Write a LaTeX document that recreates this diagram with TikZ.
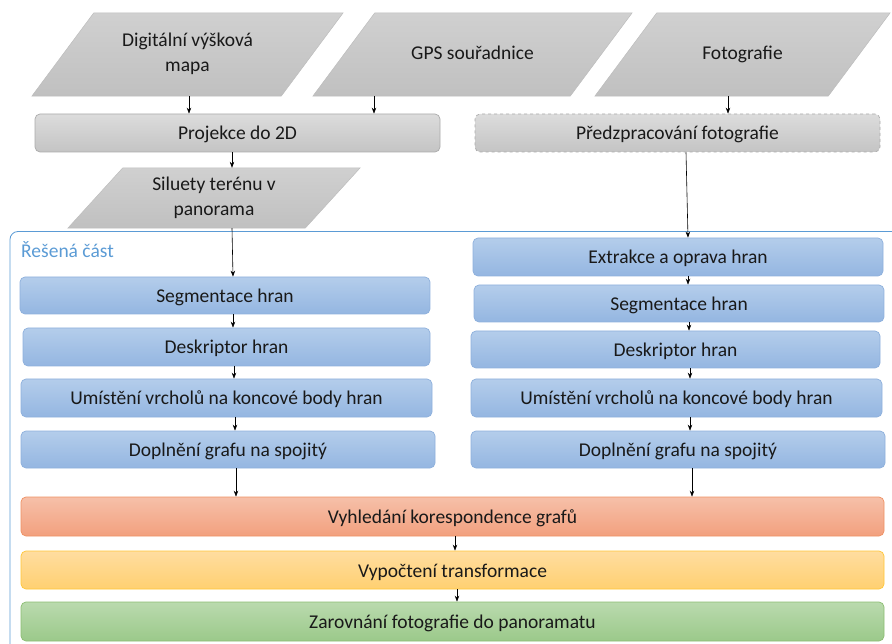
\documentclass[tikz,border=0pt]{standalone}
\usepackage{fontspec}
\setmainfont{Carlito}
\usetikzlibrary{arrows.meta,backgrounds}
\definecolor{gtop}{HTML}{DCDCDC}
\definecolor{gbot}{HTML}{C4C4C4}
\definecolor{gline}{HTML}{ABABAB}
\definecolor{ptop}{HTML}{D0D0D0}
\definecolor{pbot}{HTML}{C0C0C0}
\definecolor{pline}{HTML}{BDBDBD}
\definecolor{btop}{HTML}{B4CDEB}
\definecolor{bbot}{HTML}{94B6E1}
\definecolor{bline}{HTML}{8EB0DC}
\definecolor{otop}{HTML}{F6C0A9}
\definecolor{obot}{HTML}{F2A07E}
\definecolor{oline}{HTML}{EE9163}
\definecolor{ytop}{HTML}{FFDDA0}
\definecolor{ybot}{HTML}{FFD071}
\definecolor{yline}{HTML}{FFC637}
\definecolor{grtop}{HTML}{BADAAE}
\definecolor{grbot}{HTML}{9BC98A}
\definecolor{grline}{HTML}{8CBD72}
\definecolor{contblue}{HTML}{5B9BD5}
\tikzset{
  txt/.style={font=\fontsize{19.5}{25}\selectfont, text=black!90, inner sep=0pt, align=center},
  base/.style={txt, rounded corners=5pt, line width=0.7pt, text height=15pt, text depth=1pt},
  graybox/.style={base, draw=gline, top color=gtop, bottom color=gbot},
  dashbox/.style={base, draw=gline, dashed, top color=gtop, bottom color=gbot},
  bluebox/.style={base, draw=bline, top color=btop, bottom color=bbot},
  orangebox/.style={base, draw=oline, top color=otop, bottom color=obot},
  yellowbox/.style={base, draw=yline, top color=ytop, bottom color=ybot},
  greenbox/.style={base, draw=grline, top color=grtop, bottom color=grbot},
  paraframe/.style={draw=pline, line width=0.5pt, top color=ptop, bottom color=pbot},
  arr/.style={-{Stealth[length=6pt,width=4.5pt]}, line width=0.6pt, black}
}
\begin{document}
\begin{tikzpicture}[x=1pt,y=-1pt]
\useasboundingbox (0,0) rectangle (892,644);
% input parallelograms (text holders)
\node[txt, minimum width=311pt, minimum height=83pt] (dem) at (187.5,54.5) {\raisebox{3pt}{\begin{tabular}{@{}c@{}}Digitální výšková\\mapa\end{tabular}}};
\node[txt, minimum width=319pt, minimum height=83pt] (gps) at (472.5,54.5) {\raisebox{4pt}{GPS souřadnice}};
\node[txt, minimum width=295pt, minimum height=83pt] (foto) at (742.5,54.5) {\raisebox{4pt}{Fotografie}};
\node[txt, minimum width=292pt, minimum height=60pt] (sil) at (214,198) {\raisebox{-1pt}{\begin{tabular}{@{}c@{}}Siluety terénu v\\panorama\end{tabular}}};
\begin{pgfonlayer}{background}
\foreach \n in {dem,gps,foto}{
  \path[paraframe] ([xshift=62pt]\n.north west) -- (\n.north east) -- ([xshift=-62pt]\n.south east) -- (\n.south west) -- cycle;
}
\path[paraframe] ([xshift=55pt]sil.north west) -- (sil.north east) -- ([xshift=-55pt]sil.south east) -- (sil.south west) -- cycle;
\end{pgfonlayer}
% container
\draw[contblue, line width=0.8pt] (892,231.5) -- (18,231.5) arc[start angle=90,end angle=180,radius=8pt] -- (10,644);
\node[txt, anchor=west, text=contblue] (lab) at (21,250) {Řešená část};
% gray boxes
\node[graybox, minimum width=405pt, minimum height=38pt] (proj) at (237.5,133) {Projekce do 2D};
\node[dashbox, minimum width=405pt, minimum height=38pt] (pre) at (677.5,133) {Předzpracování fotografie};
% left column
\node[bluebox, minimum width=410pt, minimum height=37pt] (seg1) at (225,295.5) {Segmentace hran};
\node[bluebox, minimum width=407pt, minimum height=38pt] (desc1) at (226.5,347) {Deskriptor hran};
\node[bluebox, minimum width=411pt, minimum height=38pt] (umi1) at (226.5,398) {Umístění vrcholů na koncové body hran};
\node[bluebox, minimum width=414pt, minimum height=37pt] (dop1) at (228,449.5) {Doplnění grafu na spojitý};
% right column
\node[bluebox, minimum width=410pt, minimum height=38pt] (ext) at (678,257) {Extrakce a oprava hran};
\node[bluebox, minimum width=410pt, minimum height=37pt] (seg2) at (679,303.5) {Segmentace hran};
\node[bluebox, minimum width=409pt, minimum height=37pt] (desc2) at (675.5,349.5) {Deskriptor hran};
\node[bluebox, minimum width=411pt, minimum height=38pt] (umi2) at (676.5,398) {Umístění vrcholů na koncové body hran};
\node[bluebox, minimum width=414pt, minimum height=37pt] (dop2) at (678,449.5) {Doplnění grafu na spojitý};
% bottom
\node[orangebox, minimum width=863pt, minimum height=39pt] (vyh) at (452.5,516.5) {Vyhledání korespondence grafů};
\node[yellowbox, minimum width=863pt, minimum height=38pt] (vyp) at (452.5,570) {Vypočtení transformace};
\node[greenbox, minimum width=863pt, minimum height=39pt] (zar) at (452.5,621.5) {Zarovnání fotografie do panoramatu};
% arrows
\draw[arr] ([xshift=1.5pt]dem.south) -- ([xshift=1.5pt]dem.south |- proj.north);
\draw[arr] ([xshift=-98.5pt]gps.south) -- ([xshift=-98.5pt]gps.south |- proj.north);
\draw[arr] ([xshift=-14.5pt]foto.south) -- ([xshift=-14.5pt]foto.south |- pre.north);
\draw[arr] ([xshift=-5.5pt]proj.south) -- ([xshift=-5.5pt]proj.south |- sil.north);
\draw[arr] ([xshift=18pt]sil.south) -- ([xshift=8pt]seg1.north);
\draw[arr] ([xshift=8.5pt]pre.south) -- ([xshift=10pt]ext.north);
\draw[arr] ([xshift=8pt]seg1.south) -- ([xshift=8pt]seg1.south |- desc1.north);
\draw[arr] ([xshift=7.5pt]desc1.south) -- ([xshift=7.5pt]desc1.south |- umi1.north);
\draw[arr] ([xshift=8.5pt]umi1.south) -- ([xshift=8.5pt]umi1.south |- dop1.north);
\draw[arr] ([xshift=8pt]dop1.south) -- ([xshift=8pt]dop1.south |- vyh.north);
\draw[arr] ([xshift=10pt]ext.south) -- ([xshift=10pt]ext.south |- seg2.north);
\draw[arr] ([xshift=10pt]seg2.south) -- ([xshift=10pt]seg2.south |- desc2.north);
\draw[arr] ([xshift=14.5pt]desc2.south) -- ([xshift=14.5pt]desc2.south |- umi2.north);
\draw[arr] ([xshift=13.5pt]umi2.south) -- ([xshift=13.5pt]umi2.south |- dop2.north);
\draw[arr] ([xshift=14pt]dop2.south) -- ([xshift=14pt]dop2.south |- vyh.north);
\draw[arr] ([xshift=2.5pt]vyh.south) -- ([xshift=2.5pt]vyh.south |- vyp.north);
\draw[arr] ([xshift=4.5pt]vyp.south) -- ([xshift=4.5pt]vyp.south |- zar.north);
\end{tikzpicture}
\end{document}
